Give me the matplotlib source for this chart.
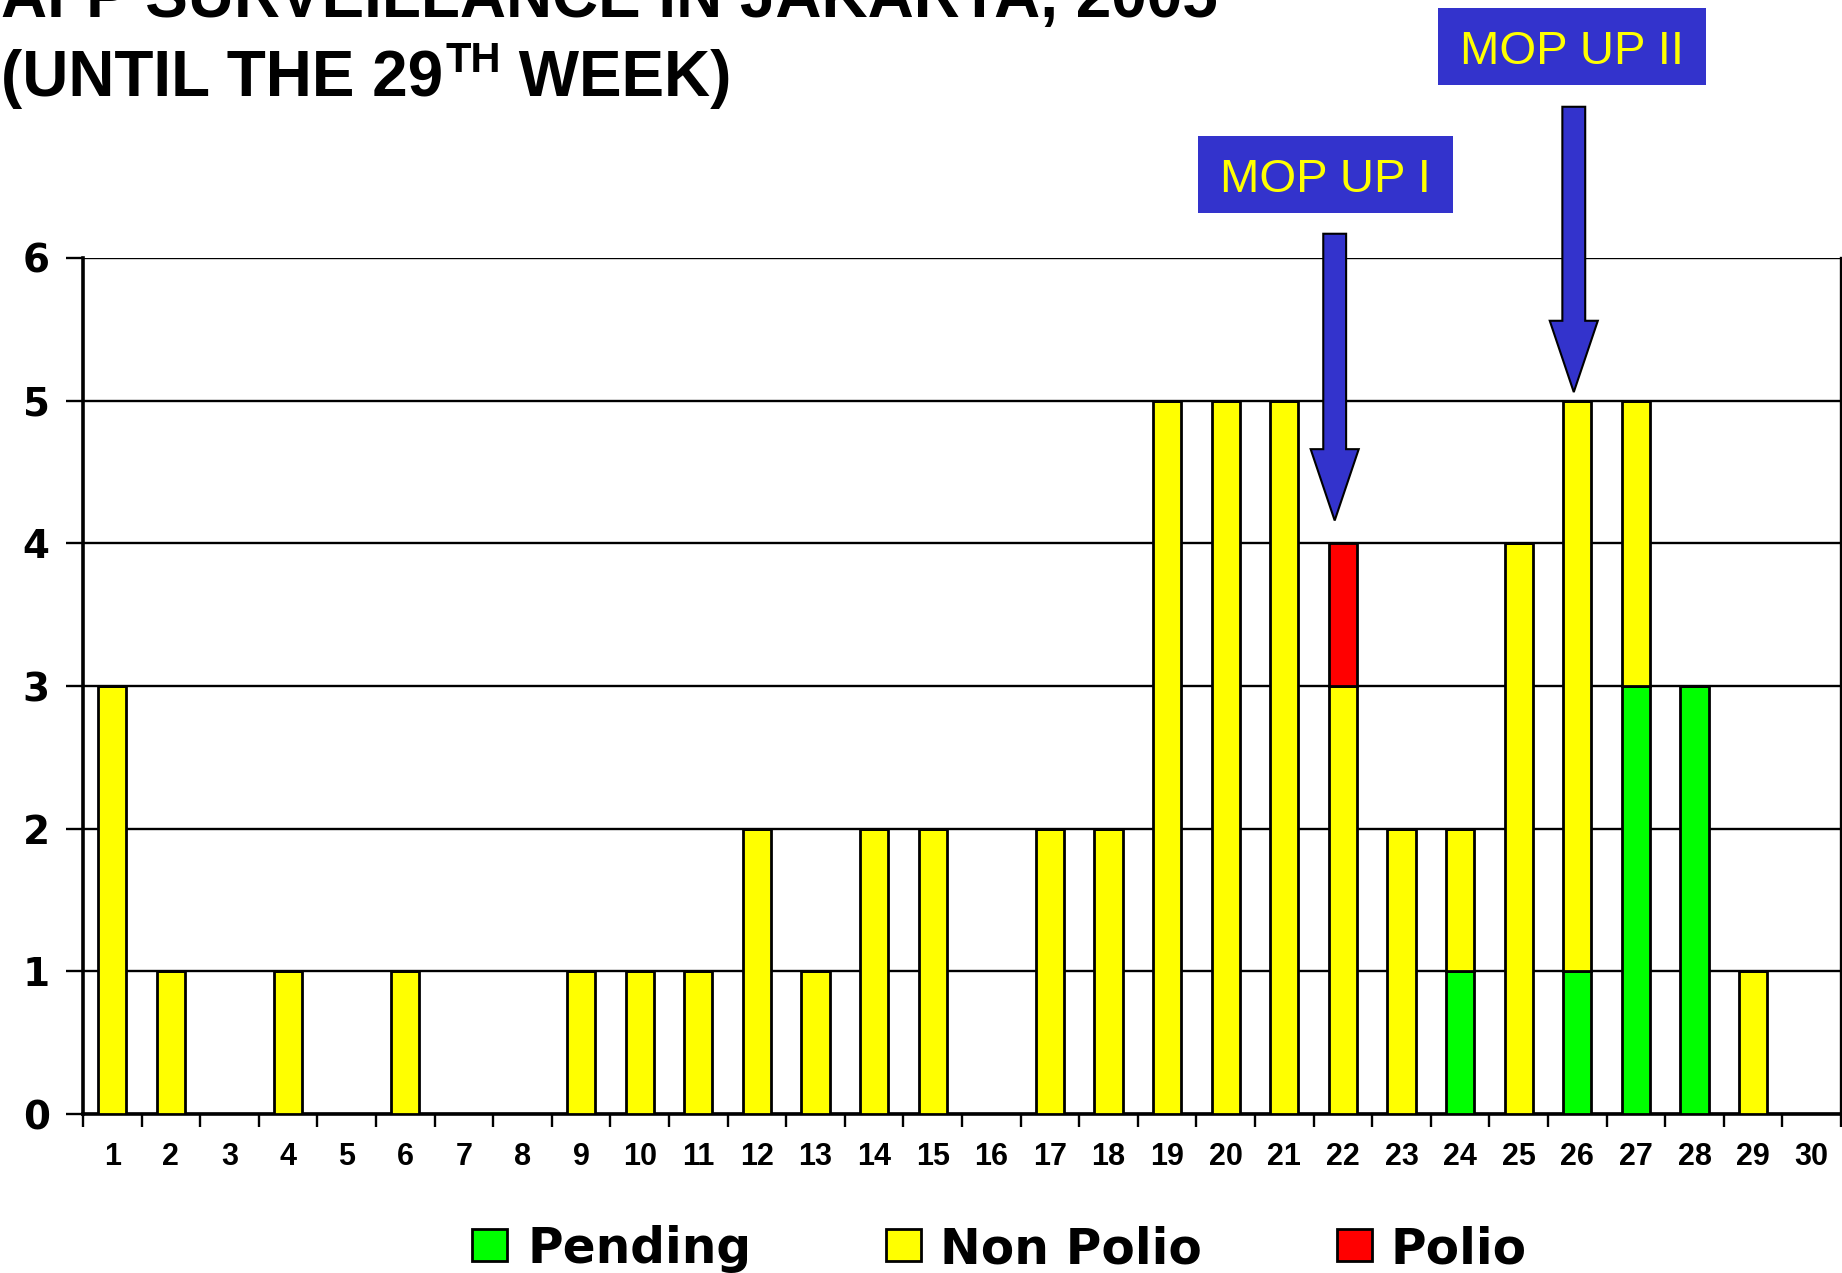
import matplotlib
matplotlib.use("Agg")
import matplotlib.pyplot as plt
from matplotlib.patches import Rectangle, FancyArrow

# AFP cases per week, Jakarta 2005
weeks = list(range(1, 31))
pending = [0, 0, 0, 0, 0, 0, 0, 0, 0, 0, 0, 0, 0, 0, 0,
           0, 0, 0, 0, 0, 0, 0, 0, 1, 0, 1, 3, 3, 0, 0]
non_polio = [3, 1, 0, 1, 0, 1, 0, 0, 1, 1, 1, 2, 1, 2, 2,
             0, 2, 2, 5, 5, 5, 3, 2, 1, 4, 4, 2, 0, 1, 0]
polio = [0, 0, 0, 0, 0, 0, 0, 0, 0, 0, 0, 0, 0, 0, 0,
         0, 0, 0, 0, 0, 0, 1, 0, 0, 0, 0, 0, 0, 0, 0]
series_labels = ["Pending", "Non Polio", "Polio"]
series_colors = ["#00FF00", "#FFFF00", "#FF0000"]

# mop-up campaigns: label, week the arrow points at, arrow top / tip
mop_labels = ["MOP UP I", "MOP UP II"]
mop_weeks = [21.86, 25.94]
mop_top = [6.17, 7.06]
mop_tip = [4.16, 5.06]

W, H = 1842, 1273
fig = plt.figure(figsize=(W / 100, H / 100), dpi=100)

def fx(px):
    return px / W

def fy(py):
    # py measured from the top of the image
    return (H - py) / H

ax = fig.add_axes([fx(83), fy(1114), fx(1841) - fx(83), fy(258) - fy(1114)])

bottom2 = [p + n for p, n in zip(pending, non_polio)]
ax.bar(weeks, pending, width=0.48, color=series_colors[0], edgecolor="black", linewidth=2, zorder=3)
ax.bar(weeks, non_polio, width=0.48, bottom=pending, color=series_colors[1], edgecolor="black", linewidth=2, zorder=3)
ax.bar(weeks, polio, width=0.48, bottom=bottom2, color=series_colors[2], edgecolor="black", linewidth=2, zorder=3)

ax.set_xlim(0.5, 30.5)
ax.set_ylim(0, 6)
ax.set_yticks(range(0, 7))
ax.yaxis.grid(True, color="black", linewidth=1.7, zorder=0)
ax.set_axisbelow(True)
ax.tick_params(axis="y", length=12, width=1.7, pad=12)
for lab in ax.get_yticklabels():
    lab.set_fontfamily("DejaVu Sans")
    lab.set_fontweight("bold")
    lab.set_fontsize(28)

# ticks between weeks, labels under the weeks
ax.set_xticks([w + 0.5 for w in range(0, 31)])
ax.set_xticklabels([])
ax.tick_params(axis="x", which="major", length=9, width=1.7, direction="out")
ax.set_xticks(weeks, minor=True)
ax.set_xticklabels([str(w) for w in weeks], minor=True, fontfamily="Liberation Sans",
                   fontweight="bold", fontsize=22)
ax.tick_params(axis="x", which="minor", length=0, pad=20)

for s in ["left", "bottom"]:
    ax.spines[s].set_linewidth(2.6)
ax.spines["top"].set_visible(False)
ax.spines["right"].set_linewidth(1.7)

# arrows
blue = "#3333CC"
for x, top, tip in zip(mop_weeks, mop_top, mop_tip):
    arr = FancyArrow(x, top, 0, tip - top, width=0.39, head_width=0.82, head_length=0.5,
                     length_includes_head=True, facecolor=blue, edgecolor="black",
                     linewidth=1.5, clip_on=False, zorder=5)
    ax.add_patch(arr)

# label boxes (pixel boxes from the reference)
boxes = [(1198, 136, 1453, 213), (1438, 8, 1706, 85)]
for lab, (x0, y0, x1, y1) in zip(mop_labels, boxes):
    fig.patches.append(Rectangle((fx(x0), fy(y1)), fx(x1) - fx(x0), fy(y0) - fy(y1),
                                 transform=fig.transFigure, facecolor=blue, edgecolor="none"))
    fig.text(fx((x0 + x1) / 2), fy((y0 + y1) / 2 + 17), lab, ha="center", va="baseline",
             color="#FFFF00", fontsize=34, fontfamily="Liberation Sans")

# title
tfont = dict(fontfamily="Liberation Sans", fontweight="bold", color="black")
fig.text(fx(1), fy(17), "AFP SURVEILLANCE IN JAKARTA, 2005", fontsize=46, va="baseline", **tfont)
t1 = fig.text(fx(1), fy(96), "(UNTIL THE 29", fontsize=46, va="baseline", **tfont)
t2 = ax.annotate("TH", xy=(1, 0), xycoords=t1, xytext=(2, 28), textcoords="offset pixels",
                 fontsize=30, va="bottom", ha="left", annotation_clip=False, **tfont)
ax.annotate(" WEEK)", xy=(1, 0), xycoords=t2, xytext=(0, -28), textcoords="offset pixels",
            fontsize=46, va="bottom", ha="left", annotation_clip=False, **tfont)

# legend
leg_sq = [472, 886, 1337]
leg_tx = [527, 940, 1390]
for lab, col, sx, tx in zip(series_labels, series_colors, leg_sq, leg_tx):
    fig.patches.append(Rectangle((fx(sx), fy(1261)), fx(35), 32 / H,
                                 transform=fig.transFigure, facecolor=col,
                                 edgecolor="black", linewidth=2))
    fig.text(fx(tx), fy(1263), lab, fontsize=35, fontfamily="DejaVu Sans",
             fontweight="bold", va="baseline")

fig.savefig("out.png", dpi=100)
